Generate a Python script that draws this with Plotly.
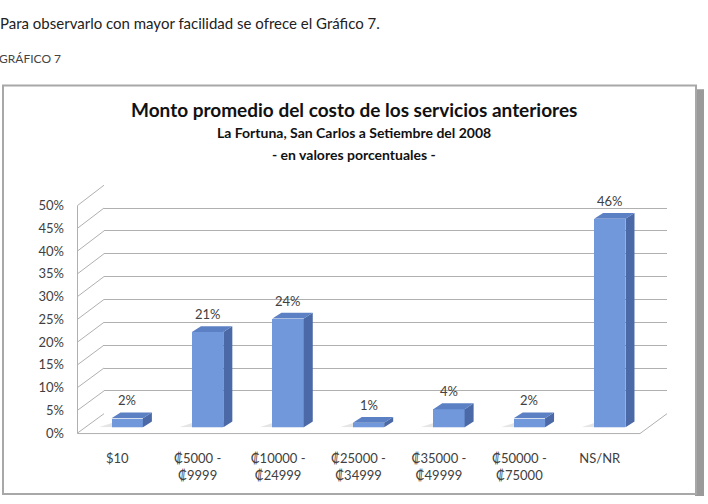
import plotly.graph_objects as go

# ---- data ----
categories = ["$10", "₡5000 -<br>₡9999", "₡10000 -<br>₡24999", "₡25000 -<br>₡34999",
              "₡35000 -<br>₡49999", "₡50000 -<br>₡75000", "NS/NR"]
values = [0.02, 0.21, 0.24, 0.01, 0.04, 0.02, 0.46]
value_labels = ["2%", "21%", "24%", "1%", "4%", "2%", "46%"]
y_ticks = [0, 0.05, 0.10, 0.15, 0.20, 0.25, 0.30, 0.35, 0.40, 0.45, 0.50]

title = "Monto promedio del costo de los servicios anteriores"
subtitle1 = "La Fortuna, San Carlos a Setiembre del 2008"
subtitle2 = "- en valores porcentuales -"
doc_text = "Para observarlo con mayor facilidad se ofrece el Gráfico 7."
doc_caption = "GRÁFICO 7"

# ---- layout geometry (pixels) ----
W, H = 708, 504
FONT = "Lato"
GRID = "#b0b0b0"
FRONT, SIDE, TOP = "#7098DA", "#4A69A6", "#5C80C4"
TXT = "#404040"

def px(x):
    return x / W

def py(y):
    return 1 - y / H

front_x, front_y = (77, 640), (204, 439)
back_x, back_y = (104, 667), (183, 419)
mid_x, mid_y = (87, 650), (199, 433)
YMAX = 0.5
n = len(categories)
bar_w = 0.39
dx = 9 / ((mid_x[1] - mid_x[0]) / n)
dy = 6 / ((mid_y[1] - mid_y[0]) / YMAX)

fig = go.Figure()

fig.add_trace(go.Scatter(x=[0], y=[0], mode="markers", marker=dict(opacity=0),
                         hoverinfo="skip", showlegend=False, xaxis="x2", yaxis="y2"))
fig.add_trace(go.Scatter(x=[0], y=[0], mode="markers", marker=dict(opacity=0),
                         hoverinfo="skip", showlegend=False, xaxis="x", yaxis="y"))
xs = list(range(n))
fig.add_trace(go.Bar(x=xs, y=values, width=bar_w, marker=dict(color=FRONT, line=dict(width=0)),
                     showlegend=False, xaxis="x3", yaxis="y3", hoverinfo="skip"))

# frame lines of the 3D box (pixel coordinate overlay x4/y4)
lx, ly = [], []
for t in y_ticks:
    yf = front_y[1] - t / YMAX * (front_y[1] - front_y[0])
    yb = back_y[1] - t / YMAX * (back_y[1] - back_y[0])
    lx += [front_x[0] + 0.5, back_x[0], None]
    ly += [yf, yb, None]
lx += [front_x[0] + 0.5, front_x[0] + 0.5, front_x[1], back_x[1], None]
ly += [front_y[0], front_y[1] + 0.5, front_y[1] + 0.5, back_y[1], None]
fig.add_trace(go.Scatter(x=lx, y=ly, mode="lines", line=dict(color=GRID, width=1),
                         hoverinfo="skip", showlegend=False, xaxis="x4", yaxis="y4"))

shapes = []
# chart box
shapes.append(dict(type="rect", xref="paper", yref="paper", layer="below",
                   x0=px(695), x1=px(704), y0=py(504), y1=py(84),
                   fillcolor="#9a9a9a", line=dict(width=0)))
shapes.append(dict(type="rect", xref="paper", yref="paper", layer="below",
                   x0=px(3), x1=px(696), y0=py(502), y1=py(80),
                   fillcolor="white", line=dict(color="#a8a8a8", width=2)))

# bar shadows, side and top faces
for xi, v in zip(xs, values):
    l, r = xi - bar_w / 2, xi + bar_w / 2
    shapes.append(dict(type="path", xref="x3", yref="y3", layer="below",
                       path=f"M{l-0.16},{0} L{l+dx-0.05},{dy} L{r+dx},{dy} L{r},{0} Z",
                       fillcolor="rgba(150,150,150,0.25)", line=dict(width=0)))
    shapes.append(dict(type="path", xref="x3", yref="y3",
                       path=f"M{r},{0} L{r+dx},{dy} L{r+dx},{v+dy} L{r},{v} Z",
                       fillcolor=SIDE, line=dict(width=0)))
    shapes.append(dict(type="path", xref="x3", yref="y3",
                       path=f"M{l},{v} L{l+dx},{v+dy} L{r+dx},{v+dy} L{r},{v} Z",
                       fillcolor=TOP, line=dict(width=0)))

annotations = []
for xi, v, lab in zip(xs, values, value_labels):
    annotations.append(dict(x=xi, y=v + dy, xref="x3", yref="y3", text=lab, showarrow=False,
                            yanchor="bottom", yshift=2, font=dict(family=FONT, size=13, color=TXT)))

annotations += [
    dict(x=px(354), y=py(105), xref="paper", yref="paper", text=f"<b>{title}</b>", showarrow=False,
         font=dict(family=FONT, size=19, color="#111"), yanchor="middle"),
    dict(x=px(354), y=py(129), xref="paper", yref="paper", text=f"<b>{subtitle1}</b>", showarrow=False,
         font=dict(family=FONT, size=14, color="#111"), yanchor="middle"),
    dict(x=px(354), y=py(151), xref="paper", yref="paper", text=f"<b>{subtitle2}</b>", showarrow=False,
         font=dict(family=FONT, size=14, color="#111"), yanchor="middle"),
    dict(x=0, y=py(16), xref="paper", yref="paper", text=doc_text, showarrow=False,
         xanchor="left", xshift=-2, yanchor="middle", font=dict(family=FONT, size=15, color="#222")),
    dict(x=0, y=py(52), xref="paper", yref="paper", text=doc_caption, showarrow=False,
         xanchor="left", xshift=-3, yanchor="middle", font=dict(family=FONT, size=12, color="#444")),
]

fig.update_layout(
    width=W, height=H, margin=dict(l=0, r=0, t=0, b=0),
    paper_bgcolor="white", plot_bgcolor="rgba(0,0,0,0)",
    font=dict(family=FONT, color=TXT),
    shapes=shapes, annotations=annotations, bargap=0,
    xaxis=dict(domain=[px(front_x[0]), px(front_x[1])], anchor="y", range=[-0.5, n - 0.5],
               tickvals=xs, ticktext=categories, showline=False,
               showgrid=False, zeroline=False, ticks="", ticklabelstandoff=16,
               tickfont=dict(family=FONT, size=13, color=TXT), fixedrange=True),
    yaxis=dict(domain=[py(front_y[1]), py(front_y[0])], anchor="x", range=[0, YMAX],
               tickvals=y_ticks, tickformat=".0%", showline=False,
               showgrid=False, zeroline=False, ticks="", ticklabelstandoff=12,
               tickfont=dict(family=FONT, size=13, color=TXT), fixedrange=True),
    xaxis2=dict(domain=[px(back_x[0]), px(back_x[1])], anchor="y2", range=[-0.5, n - 0.5],
                showticklabels=False, showgrid=False, zeroline=False, showline=False, fixedrange=True),
    yaxis2=dict(domain=[py(back_y[1]), py(back_y[0])], anchor="x2", range=[0, YMAX],
                tickvals=y_ticks, showticklabels=False, showgrid=True, gridcolor=GRID, gridwidth=1,
                zeroline=False, showline=False, fixedrange=True),
    xaxis3=dict(domain=[px(mid_x[0]), px(mid_x[1])], anchor="y3", range=[-0.5, n - 0.5],
                visible=False, fixedrange=True),
    yaxis3=dict(domain=[py(mid_y[1]), py(mid_y[0])], anchor="x3", range=[0, YMAX],
                visible=False, fixedrange=True),
    xaxis4=dict(domain=[0, 1], anchor="y4", range=[0, W], visible=False, fixedrange=True),
    yaxis4=dict(domain=[0, 1], anchor="x4", range=[H, 0], visible=False, fixedrange=True),
)

fig.write_html("out.html")
